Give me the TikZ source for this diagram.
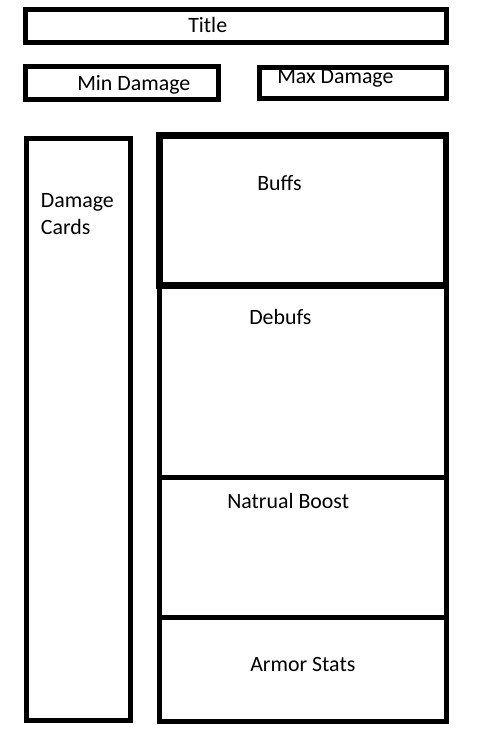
\documentclass[tikz,border=0pt]{standalone}
\usepackage{fontspec}
\setmainfont{Carlito}

\tikzset{
  panel/.style={draw=black, line width=3.75pt},
  thickpanel/.style={draw=black, line width=5.2pt},
  label/.style={anchor=base west, inner sep=0pt, font=\fontsize{16.4}{19}\selectfont}
}

\begin{document}
\begin{tikzpicture}[x=0.75pt,y=0.75pt,yscale=-1,xscale=1]
            \path[use as bounding box] (0,0) rectangle (489,750);

            %Shape: Rectangle [Title]
            \draw [panel] (25.5,9.5) rectangle (446.5,42) ;
            %Shape: Rectangle [Min Damage]
            \draw [panel] (25.5,66.5) rectangle (218.5,99.5) ;
            %Shape: Rectangle [Max Damage]
            \draw [panel] (259.5,67.5) rectangle (446.5,98.5) ;
            %Shape: Rectangle [Damage Cards]
            \draw [panel] (26.5,138.5) rectangle (130.5,720.5) ;

            %Shape: Rectangle [right column]
            \draw [panel] (159,285.5) rectangle (446.5,721) ;
            %Shape: Rectangle [Buffs]
            \draw [thickpanel] (159.5,135.5) rectangle (446,285.5) ;
            %Straight Lines [Debufs / Boost]
            \draw [panel] (159,477.5) -- (446.5,477.5) ;
            %Straight Lines [Boost / Armor]
            \draw [panel] (159,617.5) -- (446.5,617.5) ;

            % Text Node
            \node [label] (title) at (188,32.3) {Title};
            % Text Node
            \node [label] (minDmg) at (77,90) {Min Damage};
            % Text Node
            \node [label] (maxDmg) at (277,83.3) {Max Damage};
            % Text Node
            \node [label] (cardsA) at (40.7,207.3) {Damage};
            % Text Node
            \node [label] (cardsB) at (40.7,234) {Cards};
            % Text Node
            \node [label] (buffs) at (257,190) {Buffs};
            % Text Node
            \node [label] (debufs) at (249,324.3) {Debufs};
            % Text Node
            \node [label] (boost) at (227,508.3) {Natrual Boost};
            % Text Node
            \node [label] (armor) at (250,671.7) {Armor Stats};

\end{tikzpicture}
\end{document}
